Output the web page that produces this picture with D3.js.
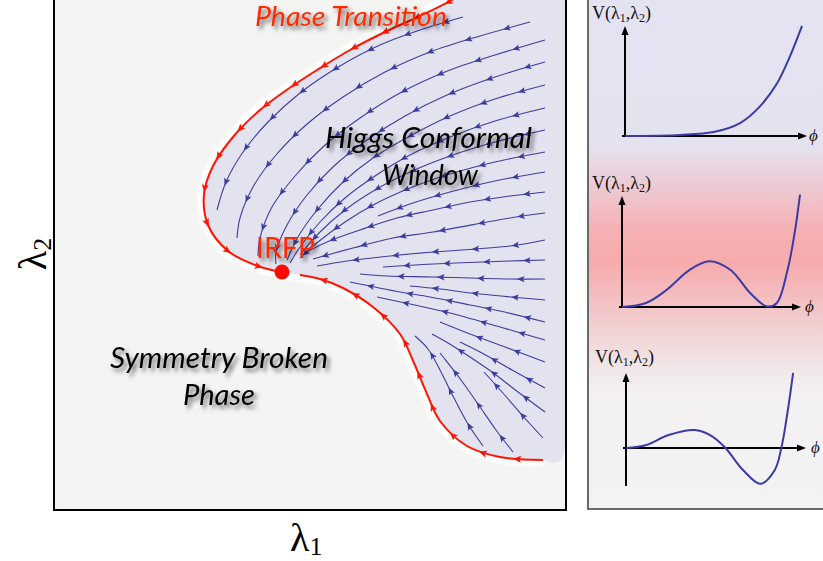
<!DOCTYPE html>
<html><head><meta charset="utf-8">
<script src="https://cdn.jsdelivr.net/npm/d3@7"></script>
<style>body{margin:0;background:#fff;} svg{display:block}</style>
</head><body>
<svg id="c" width="823" height="561"></svg>
<script>
// ---------------- DATA (λ1, λ2 in arbitrary coupling units) ----------------
const irfp = [2.28, 2.38];
const upperTransition = [[4.16,5.22],[3.98,5.10],[3.66,4.94],[3.33,4.79],[2.96,4.60],[2.63,4.40],[2.34,4.21],[2.06,4.00],[1.79,3.73],[1.59,3.44],[1.50,3.16],[1.54,2.85],[1.74,2.59],[2.01,2.45],[2.22,2.39]];
const lowerTransition = [[4.89,0.50],[4.46,0.53],[4.13,0.64],[3.86,0.89],[3.73,1.16],[3.60,1.47],[3.46,1.76],[3.19,2.03],[2.89,2.22],[2.66,2.31],[2.46,2.35]];
const windowEdge = [[5.00,0.47],[5.08,0.52],[5.08,5.30],[4.50,5.35]];
const flowUpper = [
  [[4.09,4.93],[3.66,4.80],[3.26,4.65],[2.86,4.44],[2.46,4.17],[2.14,3.88],[1.89,3.58],[1.72,3.28],[1.63,3.00]],
  [[4.76,4.88],[4.26,4.74],[3.76,4.58],[3.31,4.38],[2.89,4.13],[2.52,3.85],[2.22,3.55],[1.99,3.23],[1.86,2.92],[1.83,2.72]],
  [[4.91,4.70],[4.41,4.55],[3.91,4.38],[3.46,4.17],[3.06,3.92],[2.70,3.64],[2.41,3.34],[2.18,3.03],[2.06,2.72],[2.04,2.54]],
  [[4.91,4.48],[4.41,4.33],[3.93,4.15],[3.51,3.94],[3.13,3.70],[2.80,3.44],[2.53,3.15],[2.33,2.85],[2.22,2.58],[2.22,2.46]],
  [[4.91,4.25],[4.41,4.11],[3.96,3.94],[3.56,3.74],[3.19,3.52],[2.88,3.27],[2.63,3.00],[2.44,2.73],[2.33,2.50]],
  [[4.91,4.02],[4.41,3.89],[3.96,3.73],[3.56,3.55],[3.21,3.34],[2.91,3.12],[2.66,2.88],[2.46,2.63],[2.36,2.47]],
  [[4.91,3.80],[4.41,3.68],[3.96,3.54],[3.56,3.38],[3.21,3.20],[2.91,3.00],[2.66,2.78],[2.46,2.55]],
  [[4.91,3.58],[4.41,3.48],[3.96,3.36],[3.56,3.22],[3.21,3.06],[2.91,2.88],[2.64,2.68],[2.46,2.52]],
  [[4.91,3.38],[4.41,3.29],[3.96,3.18],[3.56,3.06],[3.24,2.94]]
];
const flowMiddle = [
  [[4.91,3.18],[4.56,3.14],[4.16,3.08],[3.79,3.00],[3.43,2.92],[3.06,2.80],[2.73,2.68],[2.51,2.57]],
  [[4.91,2.97],[4.56,2.92],[3.79,2.78],[3.39,2.72],[2.99,2.62],[2.59,2.51]],
  [[4.91,2.70],[4.56,2.64],[3.79,2.58],[3.36,2.54],[2.93,2.49],[2.63,2.44]],
  [[4.91,2.50],[4.56,2.49],[3.79,2.46],[3.29,2.43]],
  [[4.91,2.31],[4.56,2.31],[3.79,2.33],[3.33,2.34],[3.06,2.36]],
  [[4.91,2.10],[4.26,2.16],[3.86,2.21],[3.56,2.24]],
  [[4.91,1.88],[4.46,1.99],[4.16,2.05],[3.76,2.13],[3.46,2.18],[2.96,2.28]]
];
const flowLower = [
  [[4.91,1.70],[4.46,1.83],[3.96,1.97],[3.56,2.06],[3.23,2.13]],
  [[4.91,1.48],[4.51,1.63],[4.16,1.76],[3.86,1.88]],
  [[4.91,1.22],[4.58,1.40],[4.28,1.57],[4.06,1.68]],
  [[4.91,0.98],[4.64,1.18],[4.38,1.38],[4.16,1.53],[3.94,1.67],[3.78,1.76]],
  [[4.89,0.72],[4.68,0.95],[4.48,1.18],[4.30,1.38]],
  [[4.59,0.58],[4.42,0.80],[4.24,1.06],[4.07,1.30],[3.90,1.52],[3.86,1.57]],
  [[4.29,0.64],[4.14,0.86],[4.00,1.12],[3.87,1.38],[3.74,1.61],[3.61,1.74]]
];
// potentials V(φ) in the three inset panels
const phi1 = [0, 0.31, 0.50, 0.65, 0.76, 0.86, 0.93, 1.0];
const pot1 = [0, 0.01, 0.037, 0.12, 0.27, 0.49, 0.73, 1.02];
const phi2 = [0, 0.135, 0.25, 0.38, 0.49, 0.61, 0.72, 0.815, 0.87, 0.93, 0.97, 1.0];
const pot2 = [0, 0.037, 0.156, 0.34, 0.42, 0.34, 0.128, 0.005, 0.037, 0.34, 0.68, 1.03];
const phi3 = [0, 0.117, 0.246, 0.397, 0.486, 0.570, 0.676, 0.777, 0.860, 0.899, 0.933, 0.966];
const pot3 = [0, 0.041, 0.178, 0.247, 0.178, 0.014, -0.30, -0.49, -0.30, 0.014, 0.48, 1.03];

// ---------------- DRAWING ----------------
const svg = d3.select('#c');
const defs = svg.append('defs');
const sh = defs.append('filter').attr('id','shadow').attr('x','-20%').attr('y','-40%').attr('width','150%').attr('height','200%');
sh.append('feDropShadow').attr('dx',3).attr('dy',3.5).attr('stdDeviation',2.2).attr('flood-color','#000').attr('flood-opacity',0.55);
const glow = defs.append('filter').attr('id','glow').attr('x','-10%').attr('y','-10%').attr('width','120%').attr('height','120%');
glow.append('feGaussianBlur').attr('stdDeviation',1);
const grad = defs.append('linearGradient').attr('id','panelGrad').attr('x1',0).attr('y1',0).attr('x2',0).attr('y2',1);
[[0,'#e4e3f1'],[0.29,'#e5e2ef'],[0.36,'#eccdd6'],[0.46,'#f6afb2'],[0.52,'#f7abad'],[0.62,'#f2c8ca'],[0.72,'#f1e6e7'],[0.78,'#f3f1f1'],[1,'#f3f3f3']]
  .forEach(s=>grad.append('stop').attr('offset',s[0]).attr('stop-color',s[1]));
defs.append('clipPath').attr('id','plotClip').append('rect').attr('x',54).attr('y',-2).attr('width',512).attr('height',512);

const x = d3.scaleLinear().domain([0,5.12]).range([54,566]);
const y = d3.scaleLinear().domain([0,5.10]).range([510,0]);
const line = d3.line().x(d=>x(d[0])).y(d=>y(d[1])).curve(d3.curveCatmullRom.alpha(0.5));

// plot background
svg.append('rect').attr('x',54).attr('y',-2).attr('width',512).attr('height',512).attr('fill','#f4f4f2');
const plot = svg.append('g').attr('clip-path','url(#plotClip)');

const boundary = upperTransition.concat([irfp], lowerTransition.slice().reverse());
// white glow
plot.append('path').attr('d', line(boundary)).attr('fill','none').attr('stroke','#fff').attr('stroke-width',13).attr('filter','url(#glow)');
// conformal window shading
const regionLine = d3.line().x(d=>x(d[0])).y(d=>y(d[1])).curve(d3.curveCatmullRomClosed.alpha(0.5));
plot.append('path').attr('d', regionLine(boundary.concat(windowEdge))).attr('fill','#e3e3f0');

function addArrows(g, node, spacing, offset, len, half, color){
  const L = node.getTotalLength();
  for(let s = offset; s < L - 1; s += spacing){
    const a = node.getPointAtLength(Math.max(0,s-2)), b = node.getPointAtLength(s);
    const ang = Math.atan2(b.y-a.y, b.x-a.x)*180/Math.PI;
    g.append('path').attr('d',`M0,0L${-len},${-half}L${-len*0.8},0L${-len},${half}Z`)
      .attr('transform',`translate(${b.x},${b.y}) rotate(${ang})`).attr('fill',color);
  }
}
const blue = '#3d3d9e';
const flows = flowUpper.concat(flowMiddle, flowLower);
flows.forEach((f,i)=>{
  const p = plot.append('path').attr('d', line(f)).attr('fill','none').attr('stroke',blue).attr('stroke-width',1.1);
  addArrows(plot, p.node(), 40, 22 + (i%3)*6, 7.5, 3.2, blue);
});
const red = '#ff1500';
[upperTransition, lowerTransition].forEach(f=>{
  const p = plot.append('path').attr('d', line(f)).attr('fill','none').attr('stroke',red).attr('stroke-width',2);
  addArrows(plot, p.node(), 35, 30, 8, 3.5, red);
});
plot.append('circle').attr('cx',x(irfp[0])).attr('cy',y(irfp[1])).attr('r',7.5).attr('fill','#ff0a00');

// frame
svg.append('path').attr('d','M54,-2V510H566V-2').attr('fill','none').attr('stroke','#000').attr('stroke-width',2);

// labels in the main plot
function label(txt, tx, ty, opts){
  svg.append('text').attr('x',tx).attr('y',ty).text(txt)
    .attr('font-family','Lato, "Open Sans", sans-serif').attr('font-size',opts.size||28)
    .attr('font-style',opts.italic===false?'normal':'italic').attr('fill',opts.color||'#000')
    .attr('text-anchor',opts.anchor||'start')
    .attr('textLength',opts.len).attr('lengthAdjust','spacingAndGlyphs')
    .attr('filter','url(#shadow)');
}
label('Phase Transition', 255, 26, {color:'#ff2a00', size:27, len:192});
label('Higgs Conformal', 325, 148, {size:28, len:207});
label('Window', 430, 185, {size:28, anchor:'middle', len:96});
label('Symmetry Broken', 110, 368, {size:28, len:218});
label('Phase', 219, 405, {size:28, anchor:'middle', len:72});
label('IRFP', 256, 258, {color:'#ff2a00', size:28, italic:false, len:59});

// axis titles
const serif = '"Liberation Serif", "Times New Roman", serif';
const l1 = svg.append('text').attr('x',290).attr('y',551).attr('font-family',serif).attr('font-size',40).attr('fill','#000');
l1.append('tspan').text('λ'); l1.append('tspan').attr('font-size',26).attr('dy',4).text('1');
const l2 = svg.append('text').attr('transform','translate(46,254) rotate(-90)').attr('text-anchor','middle').attr('font-family',serif).attr('font-size',40).attr('fill','#000');
l2.append('tspan').text('λ'); l2.append('tspan').attr('font-size',26).attr('dy',5).text('2');

// ---------------- right panel ----------------
svg.append('rect').attr('x',588).attr('y',-3).attr('width',250).attr('height',512).attr('fill','url(#panelGrad)').attr('stroke','#6a6a6a').attr('stroke-width',2);

const panels = [
  {phi:phi1, pot:pot1, xr:[625,802], yr:[136,28], vd:[0,1], axisEnd:807, yBottom:136, lx:592, ly:19, phx:809, phy:141},
  {phi:phi2, pot:pot2, xr:[622,800], yr:[307,198], vd:[0,1], axisEnd:801, yBottom:307, lx:592, ly:189, phx:805, phy:312},
  {phi:phi3, pot:pot3, xr:[626,799], yr:[486,375], vd:[-0.52,1], axisEnd:806, yBottom:486, lx:595, ly:363, phx:811, phy:453}
];
panels.forEach(pn=>{
  const px = d3.scaleLinear().domain([0,1]).range(pn.xr);
  const py = d3.scaleLinear().domain(pn.vd).range(pn.yr);
  const g = svg.append('g');
  const ox = px(0), oy = py(0);
  g.append('line').attr('x1',ox-3).attr('x2',pn.axisEnd-6).attr('y1',oy).attr('y2',oy).attr('stroke','#000').attr('stroke-width',2);
  g.append('path').attr('d',`M${pn.axisEnd},${oy}l-9,-3.5v7z`).attr('fill','#000');
  g.append('line').attr('x1',ox).attr('x2',ox).attr('y1',pn.yBottom).attr('y2',py(1)+6).attr('stroke','#000').attr('stroke-width',2);
  g.append('path').attr('d',`M${ox},${py(1)-2}l-3.5,9h7z`).attr('fill','#000');
  const pts = pn.phi.map((f,i)=>[f, pn.pot[i]]);
  g.append('path').attr('d', d3.line().x(d=>px(d[0])).y(d=>py(d[1])).curve(d3.curveCatmullRom.alpha(0.5))(pts))
    .attr('fill','none').attr('stroke','#3b3ba6').attr('stroke-width',2);
  const t = g.append('text').attr('x',pn.lx).attr('y',pn.ly).attr('font-family',serif).attr('font-size',18).attr('fill','#111');
  t.append('tspan').text('V(λ'); t.append('tspan').attr('font-size',12).attr('dy',3).text('1');
  t.append('tspan').attr('dy',-3).text(',λ'); t.append('tspan').attr('font-size',12).attr('dy',3).text('2');
  t.append('tspan').attr('dy',-3).text(')');
  g.append('text').attr('x',pn.phx).attr('y',pn.phy).attr('font-family',serif).attr('font-style','italic').attr('font-size',17).attr('fill','#111').text('ϕ');
});
</script>
</body></html>
